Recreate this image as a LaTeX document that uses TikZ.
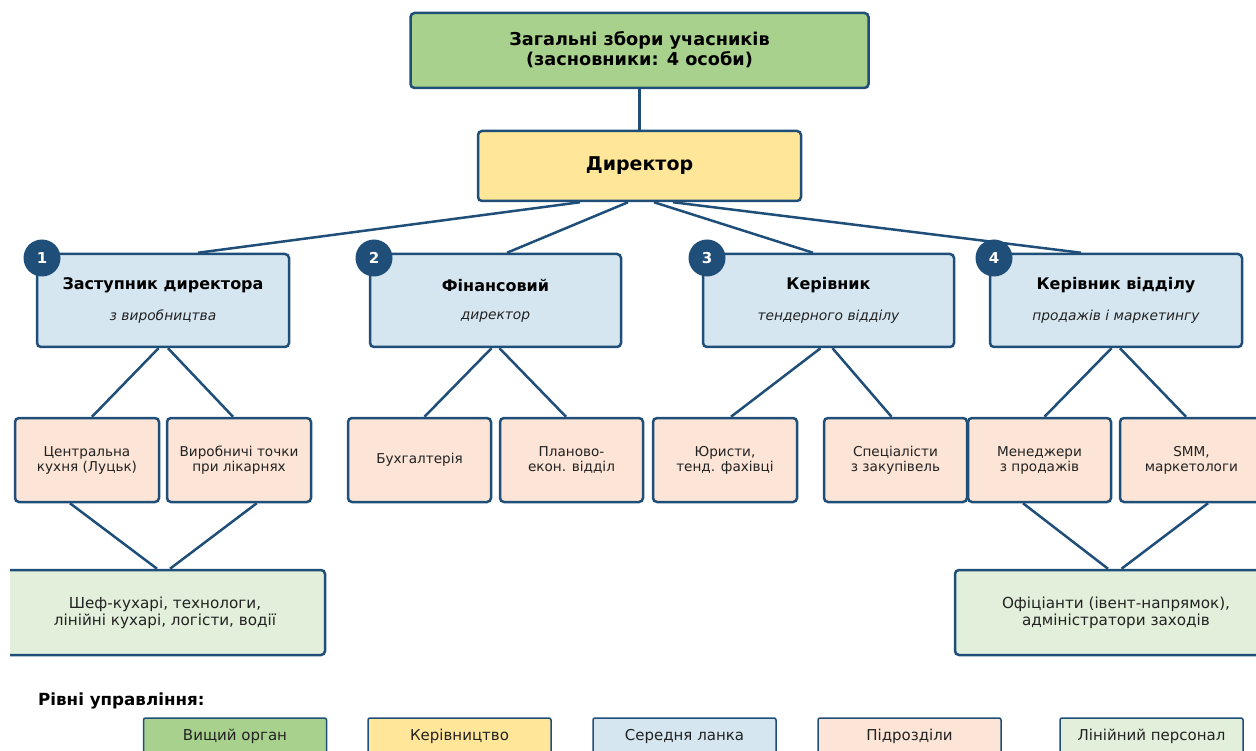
\documentclass[tikz,border=0pt]{standalone}
\usepackage{fontspec}
\setmainfont{DejaVu Sans}
\definecolor{bord}{HTML}{1F4E79}
\definecolor{cgreen}{HTML}{A9D18E}
\definecolor{cyellow}{HTML}{FFE699}
\definecolor{cblue}{HTML}{D5E6F0}
\definecolor{cpeach}{HTML}{FCE4D6}
\definecolor{clight}{HTML}{E2EFDA}
\definecolor{txt}{HTML}{222222}
\tikzset{
  box/.style={draw=bord, line width=2.5pt, rounded corners=4pt, inner sep=0pt, align=center},
  conn/.style={draw=bord, line width=2.5pt},
  numc/.style={circle, fill=bord, minimum size=37pt, inner sep=0pt, text=white, font=\fontsize{15}{17}\selectfont\bfseries},
  ttl/.style={font=\fontsize{17.7}{20}\selectfont\bfseries, text=black, align=center},
  midt/.style={font=\fontsize{16}{18}\selectfont\bfseries, text=black},
  mids/.style={font=\fontsize{13.8}{15}\selectfont\itshape, text=txt},
  leaf/.style={box, fill=cpeach, minimum width=143pt, minimum height=84pt, font=\fontsize{13.6}{15}\selectfont, text=txt},
  mid/.style={box, fill=cblue, minimum width=251pt, minimum height=93pt},
  linebox/.style={box, fill=clight, minimum height=85pt, font=\fontsize{15.2}{17}\selectfont, text=txt},
  legbox/.style={draw=bord, line width=1.5pt, rounded corners=2pt, minimum width=183pt, minimum height=36pt, inner sep=0pt, font=\fontsize{15}{17}\selectfont, text=txt}
}
\begin{document}
\begin{tikzpicture}[x=1pt,y=-1pt]
\useasboundingbox (0,0) rectangle (1256,751);
\clip (10,0) rectangle (1256,751);

% top levels
\node[box, fill=cgreen, minimum width=458pt, minimum height=75pt] (top) at (639.5,50.5) {};
\node[ttl] (topt) at (639.5,50) {Загальні збори учасників\\(засновники: 4 особи)};
\node[box, fill=cyellow, minimum width=323pt, minimum height=70pt, font=\fontsize{19}{21}\selectfont\bfseries] (dir) at (639.5,166) {Директор};

% middle
\node[mid, minimum width=252pt] (m1) at (163,300.5) {};
\node[mid] (m2) at (495.5,300.5) {};
\node[mid] (m3) at (828.5,300.5) {};
\node[mid, minimum width=252pt] (m4) at (1116,300.5) {};
\node[midt] (m1t) at (163,285) {Заступник директора};
\node[mids] (m1s) at (163,317) {з виробництва};
\node[midt] (m2t) at (495.5,285) {Фінансовий};
\node[mids] (m2s) at (495.5,317) {директор};
\node[midt] (m3t) at (828.5,285) {Керівник};
\node[mids] (m3s) at (828.5,317) {тендерного відділу};
\node[midt] (m4t) at (1116,285) {Керівник відділу};
\node[mids] (m4s) at (1116,317) {продажів і маркетингу};

% leaves
\node[leaf, minimum width=144pt] (L1) at (87,460) {Центральна\\кухня (Луцьк)};
\node[leaf, minimum width=144pt] (L2) at (239,460) {Виробничі точки\\при лікарнях};
\node[leaf] (L3) at (419.5,460) {Бухгалтерія};
\node[leaf] (L4) at (571.5,460) {Планово-\\екон. відділ};
\node[leaf, minimum width=144pt] (L5) at (725,460) {Юристи,\\тенд. фахівці};
\node[leaf] (L6) at (895.5,460) {Спеціалісти\\з закупівель};
\node[leaf] (L7) at (1039.5,460) {Менеджери\\з продажів};
\node[leaf] (L8) at (1191.5,460) {SMM,\\маркетологи};

% line staff
\node[linebox, minimum width=320pt] (B1) at (165,612.5) {Шеф-кухарі, технологи,\\лінійні кухарі, логісти, водії};
\node[linebox, minimum width=322pt] (B2) at (1116,612.5) {Офіціанти (івент-напрямок),\\адміністратори заходів};

% connectors
\draw[conn] (top.south) -- (dir.north);
\draw[conn] ([xshift=-59.5pt]dir.south) -- ([xshift=35pt]m1.north);
\draw[conn] ([xshift=-11.5pt]dir.south) -- ([xshift=11.5pt]m2.north);
\draw[conn] ([xshift=14.5pt]dir.south) -- ([xshift=-15.5pt]m3.north);
\draw[conn] ([xshift=33.5pt]dir.south) -- ([xshift=-35pt]m4.north);

\draw[conn] ([xshift=-4.5pt]m1.south) -- ([xshift=5pt]L1.north);
\draw[conn] ([xshift=5pt]m1.south) -- ([xshift=-6pt]L2.north);
\draw[conn] ([xshift=-4pt]m2.south) -- ([xshift=5pt]L3.north);
\draw[conn] ([xshift=4pt]m2.south) -- ([xshift=-5.5pt]L4.north);
\draw[conn] ([xshift=-8pt]m3.south) -- ([xshift=6pt]L5.north);
\draw[conn] ([xshift=4pt]m3.south) -- ([xshift=-4pt]L6.north);
\draw[conn] ([xshift=-4.5pt]m4.south) -- ([xshift=5pt]L7.north);
\draw[conn] ([xshift=4pt]m4.south) -- ([xshift=-5.5pt]L8.north);

\draw[conn] ([xshift=-17pt]L1.south) -- ([xshift=-8pt]B1.north);
\draw[conn] ([xshift=17.7pt]L2.south) -- ([xshift=5pt]B1.north);
\draw[conn] ([xshift=-16.5pt]L7.south) -- ([xshift=-8pt]B2.north);
\draw[conn] ([xshift=16.5pt]L8.south) -- ([xshift=5.5pt]B2.north);

% number badges
\node[numc] (n1) at (42,258) {1};
\node[numc] (n2) at (374,258) {2};
\node[numc] (n3) at (707,258) {3};
\node[numc] (n4) at (994,258) {4};

% legend
\node[anchor=west, font=\fontsize{16.7}{18}\selectfont\bfseries, text=black, inner sep=0pt] (legt) at (38,700.5) {Рівні управління:};
\node[legbox, fill=cgreen] (lg1) at (235,736) {Вищий орган};
\node[legbox, fill=cyellow] (lg2) at (459.5,736) {Керівництво};
\node[legbox, fill=cblue] (lg3) at (684.5,736) {Середня ланка};
\node[legbox, fill=cpeach] (lg4) at (909.5,736) {Підрозділи};
\node[legbox, fill=clight] (lg5) at (1151.5,736) {Лінійний персонал};
\end{tikzpicture}
\end{document}
